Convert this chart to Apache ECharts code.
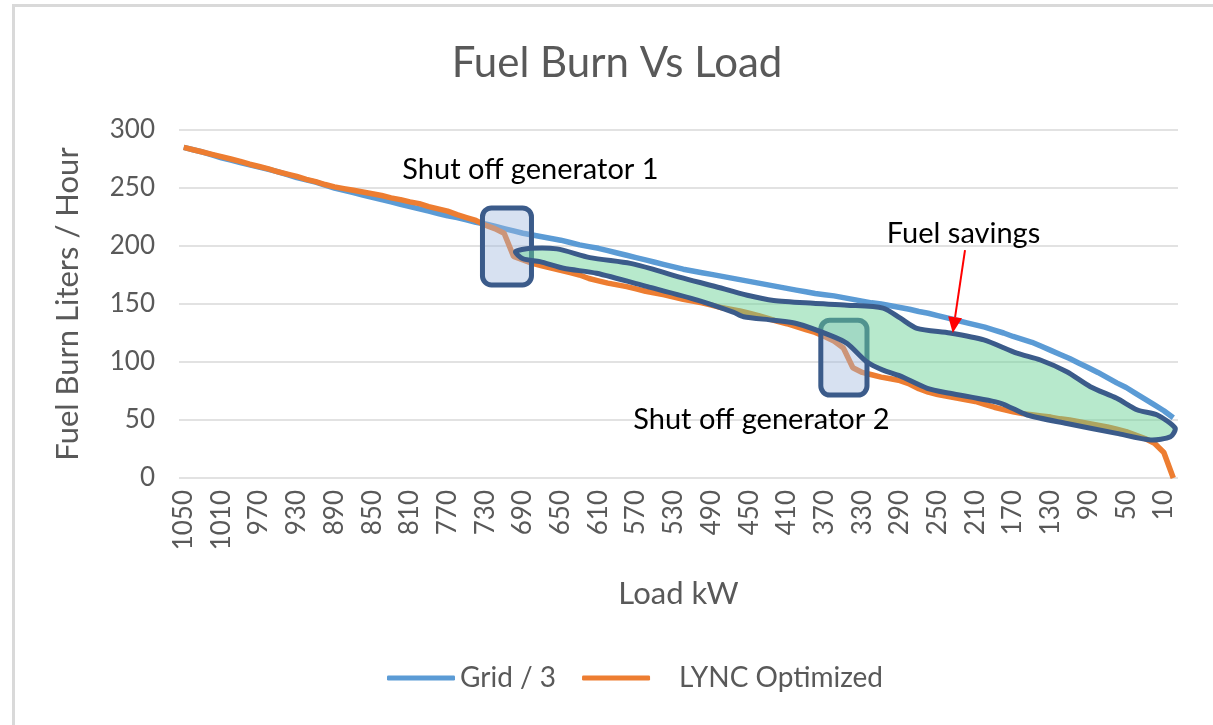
<!DOCTYPE html>
<html>
<head>
<meta charset="utf-8">
<script src="https://cdn.jsdelivr.net/npm/echarts@6/dist/echarts.min.js"></script>
<style>
  html, body { margin: 0; padding: 0; background: #fff; }
  #wrap { position: relative; width: 1213px; height: 725px; overflow: hidden; }
  #chart { position: absolute; left: 0; top: 0; width: 1213px; height: 725px; }
  #frame { position: absolute; left: 12px; top: 4px; width: 1198px; height: 740px;
           border-top: 3px solid #d9d9d9; border-left: 3px solid #d9d9d9; border-right: 1px solid #e2e2e2;
           pointer-events: none; }
</style>
</head>
<body>
<div id="wrap"><div id="chart"></div><div id="frame"></div></div>
<script>
// ---- data ----
const loadKW = [];
for (let k = 1050; k >= 0; k -= 10) loadKW.push(String(k));

const gridDiv3 = [
  285, 283, 281, 278.5, 276, 274, 272, 270, 268, 266,
  264, 261.5, 259, 257, 255, 252.5, 250, 248, 246, 244,
  242, 240, 238, 236, 234, 232, 230, 228, 226, 224.5,
  222.5, 220.5, 219, 217, 215, 213, 211, 209.5, 208, 206.5,
  205, 203, 201, 199.5, 198, 196, 194, 192, 190, 188,
  186, 184, 182, 180, 178.5, 177, 175.5, 174, 172.5, 171,
  169.5, 168, 166.5, 165, 163.5, 162, 160.5, 159, 158, 157,
  155.5, 154, 152.5, 151, 150, 148.5, 147, 145.5, 143.5, 142,
  140, 138, 136, 134, 132, 130, 127.5, 125, 122, 119.5,
  117, 113.5, 110, 106.5, 103, 99, 95, 91, 86.5, 82,
  78, 73, 68, 63, 58, 52
];

const lyncOptimized = [
  285, 283, 281, 279, 277, 275, 273, 270.5, 268.5, 266.5,
  264, 262, 260, 257.5, 255.5, 253, 251, 249.5, 248, 246.5,
  245, 243.5, 241.5, 240, 238, 236.5, 234, 232, 230, 227,
  224.5, 222, 218, 215, 211, 191, 188, 185, 183, 181,
  179, 177, 175, 172, 170, 168, 166.5, 165, 163, 161,
  159.5, 158, 156, 154, 152.5, 151, 149, 147, 145.5, 144,
  142, 140, 137.5, 135, 133, 130.5, 128, 125.5, 122, 118,
  112, 95, 91, 89, 87, 85.5, 84, 81, 77, 74,
  72, 70.5, 69, 67.5, 66, 63.5, 61, 59, 57, 55.5,
  54.5, 53.5, 52.5, 51, 50, 48.5, 47, 45.5, 44, 42,
  40, 37, 34, 30, 22, 0
];

const yTicks = { min: 0, max: 300, interval: 50 };

// hand-drawn "fuel savings" outline, [kW, L/h]
const savingsUpper = [
  [698, 195], [682, 198], [654, 197.5], [619, 190], [576, 185], [548, 179],
  [523, 173], [488, 165.5], [452, 157.5], [424, 153], [382, 150.6], [346, 149],
  [308, 146.5], [290, 138], [272, 129], [237, 125], [201, 119], [166, 107.6],
  [141, 101.7], [113, 91.6], [88, 78.7], [60, 68.7], [38, 58.6], [17, 54.3], [-2, 43]
];
const savingsLower = [
  [3, 35.6], [24, 32.8], [60, 38.5], [113, 47], [155, 54.3], [183, 64.4],
  [237, 73], [261, 77.3], [290, 88], [308, 93], [325, 100], [346, 116],
  [364, 123], [399, 133], [424, 136], [456, 139], [467, 143], [505, 153.4],
  [558, 165], [612, 176.5], [647, 180.8], [672, 186.5], [690, 189]
];

// shut-off boxes: [kW left, kW right, top, bottom]
const shutOffBoxes = [
  [733, 681, 232.8, 166.4],
  [374, 325, 136, 71.5]
];

// annotation texts: [kW (left edge), L/h (middle), text]
const noteTexts = [
  [818, 265.5, 'Shut off generator 1'],
  [573, 50, 'Shut off generator 2'],
  [304, 211, 'Fuel savings']
];
// arrow: [from kW, from val, to kW, to val]
const savingsArrow = [221, 196.5, 234, 125];

const FONT = 'Lato';
const chart = echarts.init(document.getElementById('chart'), null, { renderer: 'canvas' });

chart.setOption({
  animation: false,
  backgroundColor: 'transparent',
  title: {
    text: 'Fuel Burn Vs Load',
    left: 612, top: 37, textAlign: 'center',
    textStyle: { fontFamily: FONT, fontSize: 42, fontWeight: 'normal', color: '#595959' }
  },
  legend: {
    left: 382, top: 659,
    itemWidth: 68, itemHeight: 5, itemGap: 26,
    icon: 'roundRect',
    textStyle: { fontFamily: FONT, fontSize: 28, color: '#595959' },
    data: [
      { name: 'Grid / 3' },
      { name: 'LYNC Optimized', textStyle: { padding: [0, 0, 0, 24] } }
    ]
  },
  grid: { left: 179, right: 35, top: 130, bottom: 247, containLabel: false },
  xAxis: [
    {
      type: 'category', data: loadKW, boundaryGap: true,
      name: 'Load kW', nameLocation: 'middle', nameGap: 100,
      nameTextStyle: { fontFamily: FONT, fontSize: 31, color: '#595959' },
      axisLine: { show: false }, axisTick: { show: false },
      axisLabel: { interval: 3, rotate: 90, margin: 12, fontFamily: FONT, fontSize: 26, color: '#595959' },
      splitLine: { show: false }
    },
    { type: 'value', show: false, min: -5, max: 1055, inverse: true }
  ],
  yAxis: {
    type: 'value', min: yTicks.min, max: yTicks.max, interval: yTicks.interval,
    name: 'Fuel Burn Liters / Hour', nameLocation: 'middle', nameGap: 96, nameRotate: 90,
    nameTextStyle: { fontFamily: FONT, fontSize: 31, color: '#595959' },
    axisLine: { show: false }, axisTick: { show: false },
    axisLabel: { margin: 24, fontFamily: FONT, fontSize: 26, color: '#595959' },
    splitLine: { lineStyle: { color: '#d9d9d9', width: 1.5 } }
  },
  series: [
    {
      name: 'Grid / 3', type: 'line', data: gridDiv3, symbol: 'none',
      lineStyle: { color: '#5b9bd5', width: 5.5 }, itemStyle: { color: '#5b9bd5' }, z: 2
    },
    {
      name: 'LYNC Optimized', type: 'line', data: lyncOptimized, symbol: 'none',
      lineStyle: { color: '#ed7d31', width: 5.5 }, itemStyle: { color: '#ed7d31' }, z: 3
    },
    {
      type: 'custom', xAxisIndex: 1, yAxisIndex: 0, z: 4, silent: true, clip: false,
      data: shutOffBoxes.map((b, i) => [i]),
      renderItem: function (params, api) {
        const b = shutOffBoxes[params.dataIndex];
        const p1 = api.coord([b[0], b[2]]);
        const p2 = api.coord([b[1], b[3]]);
        return {
          type: 'rect',
          shape: { x: p1[0], y: p1[1], width: p2[0] - p1[0], height: p2[1] - p1[1], r: 9 },
          style: { fill: 'rgba(160,183,221,0.42)', stroke: '#3b5b8a', lineWidth: 5 }
        };
      }
    },
    {
      type: 'custom', xAxisIndex: 1, yAxisIndex: 0, z: 5, silent: true, clip: false,
      data: [[0]],
      renderItem: function (params, api) {
        const pts = savingsUpper.concat(savingsLower).map(p => api.coord(p));
        return {
          type: 'polygon',
          shape: { points: pts, smooth: 0.25 },
          style: { fill: 'rgba(105,208,148,0.48)', stroke: '#3b5b8a', lineWidth: 5, lineJoin: 'round' }
        };
      }
    },
    {
      type: 'custom', xAxisIndex: 1, yAxisIndex: 0, z: 6, silent: true, clip: false,
      data: [[0]],
      renderItem: function (params, api) {
        const a = api.coord([savingsArrow[0], savingsArrow[1]]);
        const b = api.coord([savingsArrow[2], savingsArrow[3]]);
        const dx = b[0] - a[0], dy = b[1] - a[1];
        const len = Math.sqrt(dx * dx + dy * dy);
        const ux = dx / len, uy = dy / len;
        const hl = 16, hw = 7;
        const base = [b[0] - ux * hl, b[1] - uy * hl];
        const children = [
          { type: 'line', shape: { x1: a[0], y1: a[1], x2: base[0], y2: base[1] },
            style: { stroke: '#ff0000', lineWidth: 2 } },
          { type: 'polygon', shape: { points: [b, [base[0] - uy * hw, base[1] + ux * hw], [base[0] + uy * hw, base[1] - ux * hw]] },
            style: { fill: '#ff0000' } }
        ];
        noteTexts.forEach(t => {
          const p = api.coord([t[0], t[1]]);
          children.push({
            type: 'text', x: p[0], y: p[1],
            style: { text: t[2], fill: '#000', fontFamily: FONT, fontSize: 29,
                     textAlign: 'left', textVerticalAlign: 'middle' }
          });
        });
        return { type: 'group', children: children };
      }
    }
  ]
});
</script>
</body>
</html>
